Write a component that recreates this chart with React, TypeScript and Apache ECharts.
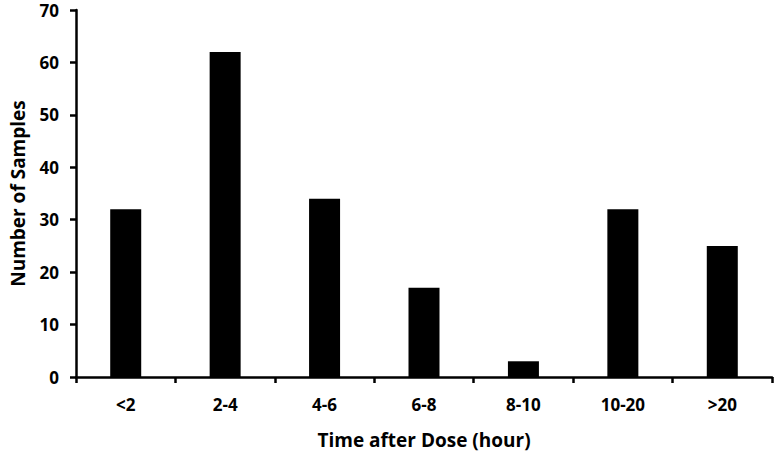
import React, { useEffect, useRef } from "react";
import * as echarts from "echarts";

const categories = ["<2", "2-4", "4-6", "6-8", "8-10", "10-20", ">20"];
const sampleCounts = [32, 62, 34, 17, 3, 32, 25];
const xTitle = "Time after Dose (hour)";
const yTitle = "Number of Samples";

const FONT = "'Open Sans', Lato, sans-serif";

export default function App() {
  const ref = useRef<HTMLDivElement>(null);
  useEffect(() => {
    if (!ref.current) return;
    const chart = echarts.init(ref.current, undefined, { renderer: "svg" });
    chart.setOption({
      animation: false,
      grid: { left: 69, right: 2, top: 10, bottom: 73, containLabel: false },
      xAxis: {
        type: "category",
        data: categories,
        name: xTitle,
        nameLocation: "middle",
        nameGap: 53,
        nameTextStyle: { color: "#000", fontFamily: FONT, fontWeight: "bold", fontSize: 19 },
        axisLine: { lineStyle: { color: "#000", width: 2.5 } },
        axisTick: { show: true, length: 6, inside: false, lineStyle: { color: "#000", width: 2.5 } },
        axisLabel: { color: "#000", fontFamily: FONT, fontWeight: "bold", fontSize: 17, margin: 19 },
      },
      yAxis: {
        type: "value",
        min: 0,
        max: 70,
        interval: 10,
        name: yTitle,
        nameLocation: "middle",
        nameGap: 49,
        nameTextStyle: { color: "#000", fontFamily: FONT, fontWeight: "bold", fontSize: 19 },
        splitLine: { show: false },
        axisLine: { show: true, lineStyle: { color: "#000", width: 2.5 } },
        axisTick: { show: true, length: 6, lineStyle: { color: "#000", width: 2.5 } },
        axisLabel: { color: "#000", fontFamily: FONT, fontWeight: "bold", fontSize: 17, margin: 17 },
      },
      series: [
        {
          type: "bar",
          data: sampleCounts,
          barWidth: 31,
          itemStyle: { color: "#000" },
        },
      ],
    });
    return () => chart.dispose();
  }, []);
  return <div ref={ref} style={{ width: 774, height: 454, position: "absolute", left: 0, top: 0 }} />;
}
